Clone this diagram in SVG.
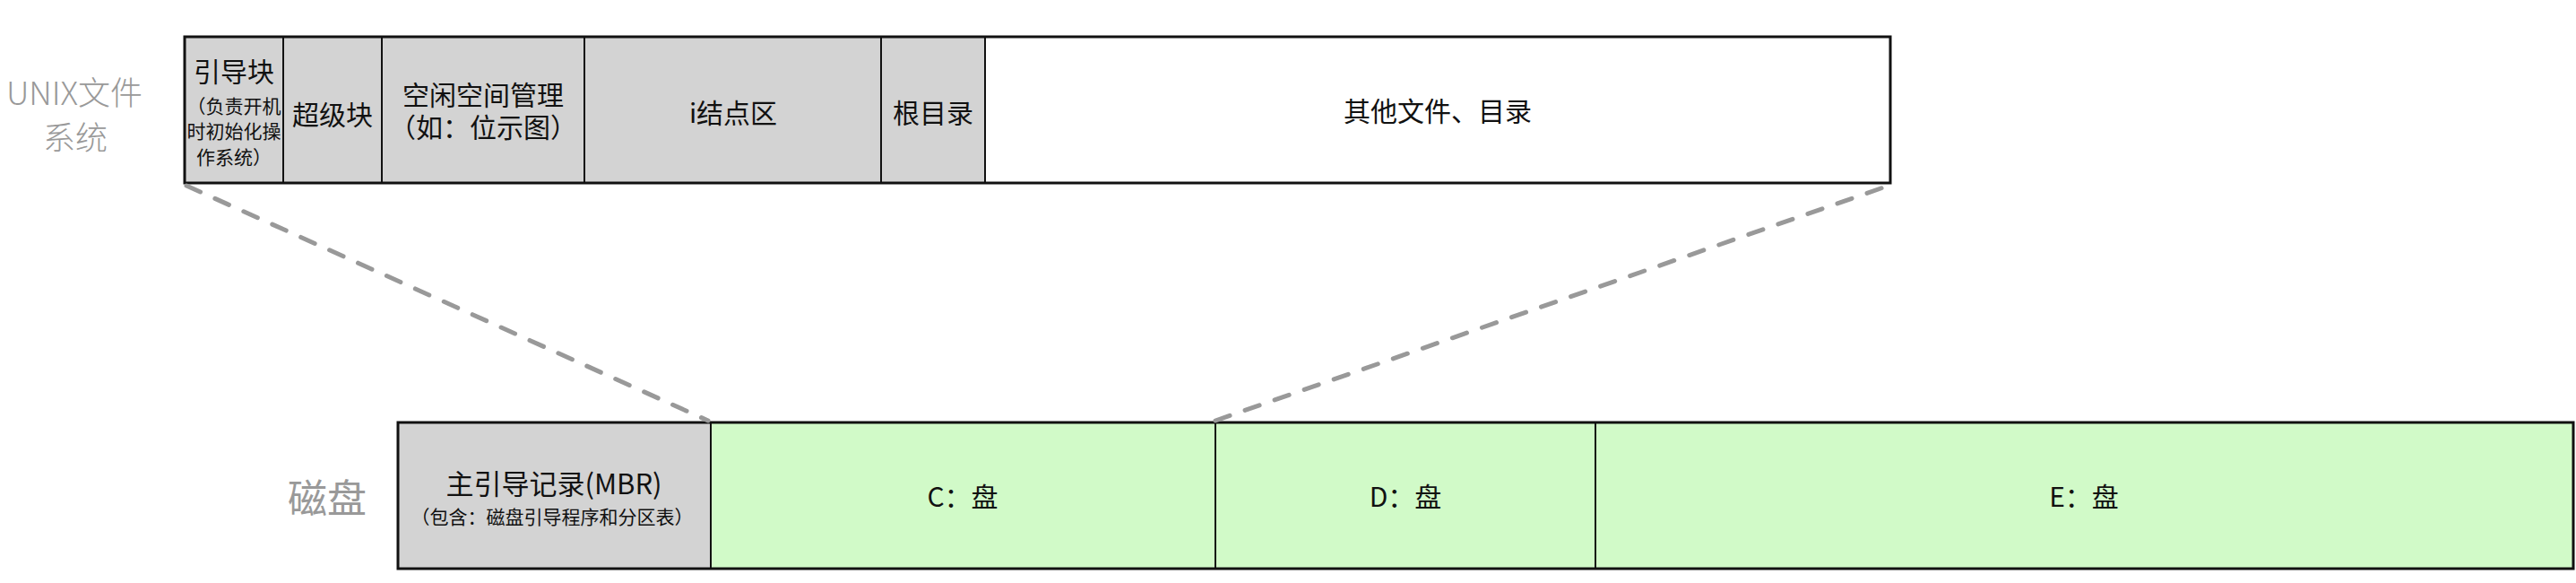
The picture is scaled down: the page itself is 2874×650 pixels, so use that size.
<svg xmlns="http://www.w3.org/2000/svg" width="2874" height="650" viewBox="0 0 2874 650">
<style>
text{font-family:"Noto Sans CJK SC","Noto Sans",sans-serif;text-anchor:middle;dominant-baseline:central;fill:#111}
.t30{font-size:30px}
.t21{font-size:21px}
.lbl{fill:#999;font-weight:300}
.gray{fill:#d3d3d3;stroke:#111;stroke-width:2}
.white{fill:#fff;stroke:#111;stroke-width:2}
.green{fill:#d1fac8;stroke:#111;stroke-width:2}
.outer{fill:none;stroke:#111;stroke-width:3}
.dash{stroke:#999;stroke-width:5;stroke-linecap:round;stroke-dasharray:17 18;fill:none}
</style>
<rect width="2874" height="650" fill="#fff"/>
<g id="label-unix">
<text class="lbl" x="83" y="101" style="font-size:36px">UNIX文件</text>
<text class="lbl" x="84" y="151" style="font-size:36px">系统</text>
</g>
<g id="label-disk">
<text class="lbl" x="365" y="553" style="font-size:44px;font-weight:400">磁盘</text>
</g>
<g id="boot-block">
<rect class="gray" x="206" y="41" width="110" height="163"/>
<text class="t30" x="261" y="78">引导块</text>
<text class="t21" x="261" y="117">（负责开机</text>
<text class="t21" x="261" y="145">时初始化操</text>
<text class="t21" x="261" y="174">作系统）</text>
</g>
<g id="super-block">
<rect class="gray" x="316" y="41" width="110" height="163"/>
<text class="t30" x="371" y="126">超级块</text>
</g>
<g id="free-space">
<rect class="gray" x="426" y="41" width="226" height="163"/>
<text class="t30" x="539" y="104">空闲空间管理</text>
<text class="t30" x="539" y="140">（如：位示图）</text>
</g>
<g id="inode-area">
<rect class="gray" x="652" y="41" width="331" height="163"/>
<text class="t30" x="818" y="124">i结点区</text>
</g>
<g id="root-dir">
<rect class="gray" x="983" y="41" width="116" height="163"/>
<text class="t30" x="1041" y="124">根目录</text>
</g>
<g id="other-files">
<rect class="white" x="1099" y="41" width="1010" height="163"/>
<text class="t30" x="1604" y="122">其他文件、目录</text>
</g>
<rect class="outer" x="206" y="41" width="1903" height="163"/>
<g id="mbr">
<rect class="gray" x="444" y="471" width="349" height="163"/>
<text x="618" y="537" style="font-size:31px">主引导记录(MBR)</text>
<text class="t21" x="616" y="575">（包含：磁盘引导程序和分区表）</text>
</g>
<g id="c-drive">
<rect class="green" x="793" y="471" width="563" height="163"/>
<text class="t30" x="1074" y="552">C：盘</text>
</g>
<g id="d-drive">
<rect class="green" x="1356" y="471" width="424" height="163"/>
<text class="t30" x="1568" y="552">D：盘</text>
</g>
<g id="e-drive">
<rect class="green" x="1780" y="471" width="1091" height="163"/>
<text class="t30" x="2325" y="552">E：盘</text>
</g>
<rect class="outer" x="444" y="471" width="2427" height="163"/>
<g id="connectors">
<line class="dash" x1="208" y1="207" x2="790" y2="469"/>
<line class="dash" x1="1356" y1="469" x2="2107" y2="207"/>
</g>
</svg>
